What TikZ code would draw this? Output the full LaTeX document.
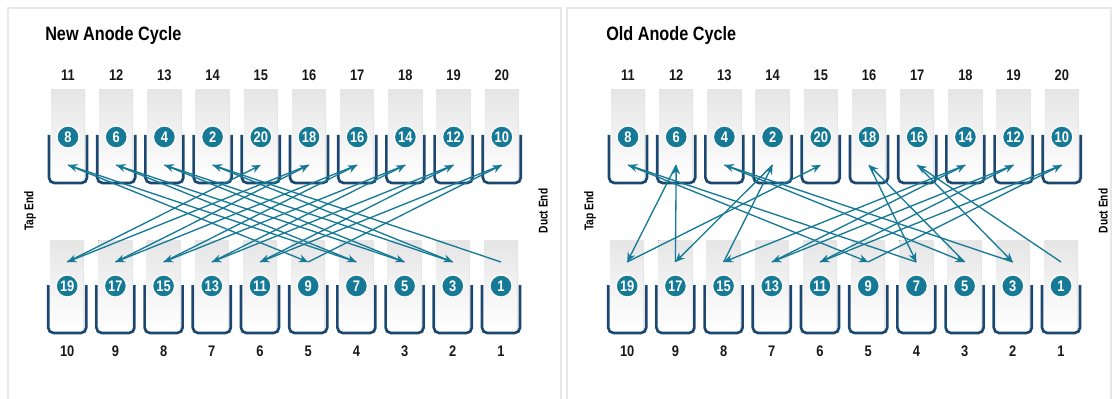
\documentclass[tikz,border=0pt]{standalone}
\usepackage{fontspec}
\setmainfont{Liberation Sans}
\newfontfamily\condf[FakeStretch=0.84]{Liberation Sans}
\newfontfamily\narrowf[FakeStretch=0.8]{Liberation Sans}
\usetikzlibrary{arrows.meta}
\definecolor{tealc}{RGB}{22,122,150}
\definecolor{navyc}{RGB}{28,72,112}
\definecolor{framec}{RGB}{232,232,232}
\tikzset{
  cellbg/.style={top color=black!10, bottom color=white, draw=none},
  celledge/.style={draw=black!10, line width=0.6pt},
  bucket/.style={draw=navyc, line width=2pt, rounded corners=4pt},
  num/.style={circle, fill=tealc, draw=white, line width=0.9pt, text=white,
    font=\condf\bfseries\fontsize{11.5}{11.5}\selectfont, inner sep=0pt, minimum size=16.5pt},
  poslabel/.style={font=\condf\bfseries\fontsize{11.5}{11.5}\selectfont, text=black!90},
  titlelabel/.style={font=\condf\bfseries\fontsize{14.5}{14.5}\selectfont, anchor=west, inner sep=0pt},
  endlabel/.style={font=\narrowf\bfseries\fontsize{9.5}{9.5}\selectfont, rotate=90},
  arr/.style={draw=tealc, line width=1pt, -{Stealth[length=7pt,width=6pt]}},
  panelframe/.style={draw=framec, line width=2pt}
}
\newcommand{\drawpanel}[2]{%
  \foreach \p/\n in {11/8,12/6,13/4,14/2,15/20,16/18,17/16,18/14,19/12,20/10}{
    \pgfmathsetmacro{\cx}{#2+68+(\p-11)*48.2}
    \fill[cellbg] (\cx-17,90) rectangle (\cx+17,182);
    \draw[celledge] (\cx+16.5,90) -- (\cx+16.5,182);
    \draw[bucket] (\cx-19,135) -- (\cx-19,183) -- (\cx+19,183) -- (\cx+19,135);
    \node[num] (#1c\n) at (\cx,137) {\n};
    \node[poslabel] (#1p\p) at (\cx,75) {\p};
    \coordinate (#1a\n) at (\cx,165);
  }
  \foreach \q in {1,...,10}{
    \pgfmathsetmacro{\cx}{#2+501-(\q-1)*48.2}
    \pgfmathtruncatemacro{\n}{2*\q-1}
    \fill[cellbg] (\cx-17,240) rectangle (\cx+17,332);
    \draw[celledge] (\cx+16.5,240) -- (\cx+16.5,332);
    \draw[bucket] (\cx-19,285) -- (\cx-19,333) -- (\cx+19,333) -- (\cx+19,285);
    \node[num] (#1c\n) at (\cx,286) {\n};
    \node[poslabel] (#1b\q) at (\cx,351) {\q};
    \coordinate (#1a\n) at (\cx,262);
  }
}
\begin{document}
\begin{tikzpicture}[x=0.75pt,y=-0.75pt]
\useasboundingbox (0,0) rectangle (1113,399);
\fill[white] (0,0) rectangle (1113,399);
\draw[panelframe] (8,8) rectangle (561,430);
\draw[panelframe] (567,8) rectangle (1111,430);

\node[titlelabel] (t1) at (45,36) {New Anode Cycle};
\node[titlelabel] (t2) at (606,36) {Old Anode Cycle};
\node[endlabel] (tap1) at (30,211) {Tap End};
\node[endlabel] (duct1) at (543,211) {Duct End};
\node[endlabel] (tap2) at (590,211) {Tap End};
\node[endlabel] (duct2) at (1103,211) {Duct End};

\drawpanel{N}{0}
\drawpanel{O}{560}

% new cycle: 1 -> 2 -> ... -> 20
\foreach \i [evaluate=\i as \j using int(\i+1)] in {1,...,19}{
  \draw[arr] (Na\i) -- (Na\j);
}
% old cycle: 1,16,3,4,5,18,7,8,9,10,11,12,13,14,15,2,17,6,19,20
\foreach \s/\t in {1/16,16/3,3/4,4/5,5/18,18/7,7/8,8/9,9/10,10/11,11/12,12/13,13/14,14/15,15/2,2/17,17/6,6/19,19/20}{
  \draw[arr] (Oa\s) -- (Oa\t);
}
\end{tikzpicture}
\end{document}
